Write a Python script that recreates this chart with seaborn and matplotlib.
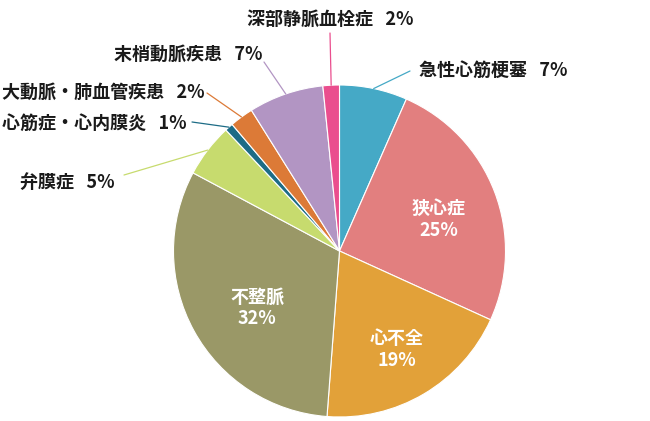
import numpy as np
import seaborn as sns
import matplotlib.pyplot as plt

# data
diseases = ['急性心筋梗塞', '狭心症', '心不全', '不整脈', '弁膜症',
            '心筋症・心内膜炎', '大動脈・肺血管疾患', '末梢動脈疾患', '深部静脈血栓症']
shares = [6.6, 25.2, 19.4, 31.6, 5.2, 0.8, 2.3, 7.3, 1.6]
colors = ['#45A9C6', '#E27F7F', '#E2A139', '#9A9867', '#C7DB6E',
          '#1D6C86', '#DC7A37', '#B295C3', '#EA4E8E']

sns.set_theme(style='white')
plt.rcParams['font.family'] = ['Noto Sans CJK JP', 'DejaVu Sans']

W, H = 650, 421
CX, CY, R = 339.5, 251, 166

def px(x, y):
    # pixel position -> data units of the pie axes
    return (x - CX) / R, (CY - y) / R

fig = plt.figure(figsize=(6.5, 4.21), dpi=100)
ax = fig.add_axes([(CX - R) / W, (H - CY - R) / H, 2 * R / W, 2 * R / H])

wedges, _ = ax.pie(shares, colors=colors, startangle=90, counterclock=False,
                   radius=1, wedgeprops=dict(edgecolor='white', linewidth=0.8))
ax.set_xlim(-1, 1)
ax.set_ylim(-1, 1)
ax.set_aspect('equal')
ax.axis('off')

# labels inside the big slices
inside = {1: (439, 219), 2: (397, 350), 3: (257, 308)}
# outside labels: line end, text anchor, horizontal alignment
outside = {
    0: ((410, 71), (419, 70), 'left'),
    4: ((124, 175), (115, 182), 'right'),
    5: ((192, 122), (187, 123), 'right'),
    6: ((207, 93), (205, 92), 'right'),
    7: ((264, 62), (263, 54), 'right'),
    8: ((330, 33), (330, 19), 'center'),
}

for i, w in enumerate(wedges):
    ang = np.deg2rad((w.theta1 + w.theta2) / 2)
    pct = f'{round(shares[i])}%'
    if i in inside:
        tx, ty = px(*inside[i])
        ax.text(tx, ty, f'{diseases[i]}\n{pct}', color='white', fontsize=13,
                fontweight='bold', ha='center', va='center', linespacing=1.2)
    else:
        (ex, ey), (tx, ty), ha = outside[i]
        ex, ey = px(ex, ey)
        ax.plot([np.cos(ang), ex], [np.sin(ang), ey], color=colors[i], lw=0.9,
                clip_on=False)
        tx, ty = px(tx, ty)
        ax.text(tx, ty, f'{diseases[i]}   {pct}', color='#1a1a1a', fontsize=13,
                fontweight='bold', ha=ha, va='center')

fig.savefig('out.png', dpi=100)
